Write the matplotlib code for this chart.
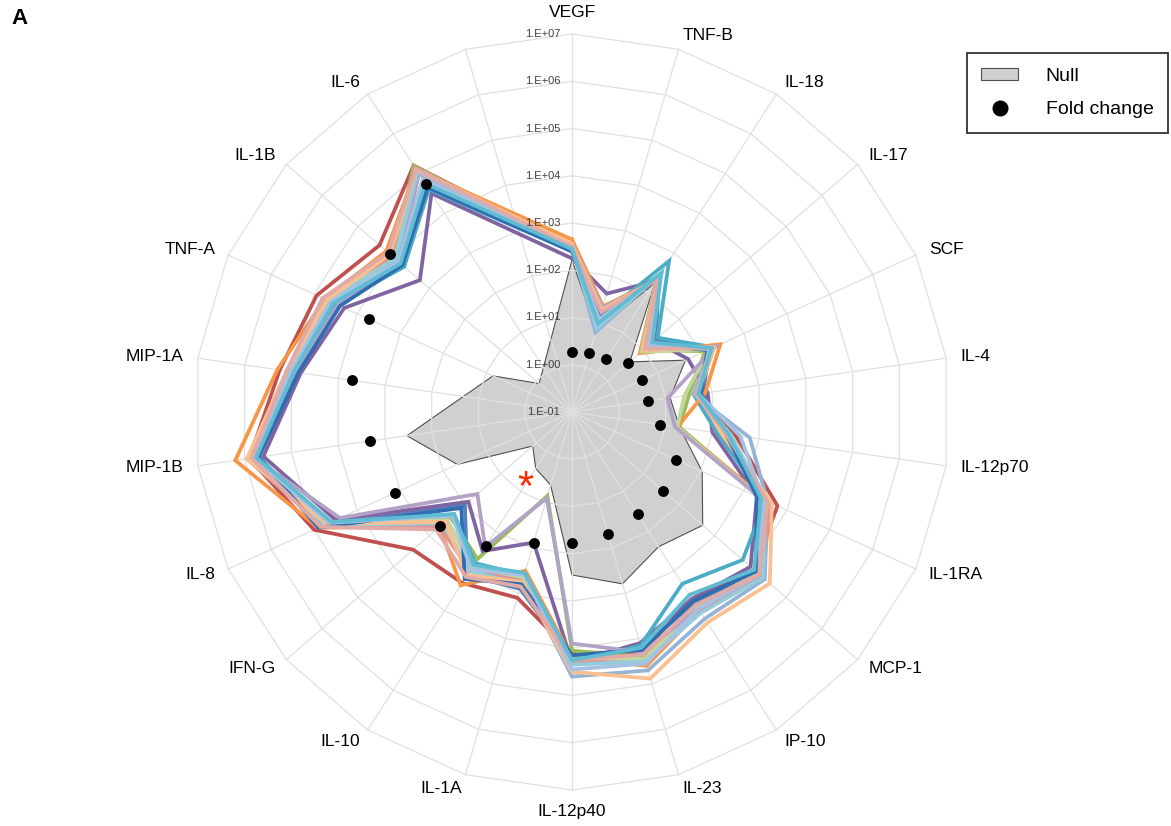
import numpy as np
import matplotlib.pyplot as plt
from matplotlib.patches import Patch
from matplotlib.lines import Line2D

plt.rcParams['font.family'] = ['Liberation Sans', 'DejaVu Sans']

nan = np.nan

# categories clockwise from the top, the last spoke has no name and no data
categories = ['VEGF', 'TNF-B', 'IL-18', 'IL-17', 'SCF', 'IL-4', 'IL-12p70', 'IL-1RA',
              'MCP-1', 'IP-10', 'IL-23', 'IL-12p40', 'IL-1A', 'IL-10', 'IFN-G', 'IL-8',
              'MIP-1B', 'MIP-1A', 'TNF-A', 'IL-1B', 'IL-6', '']

# radial axis, log10 exponents
exp_min, exp_max = -1, 7

# all values below are log10 of the concentration
null_log = [2.22, 0.8, 2.25, 0.62, 1.64, 1.1, 1.3, 2.03, 2.66, 2.39, 2.79,
            2.45, 0.61, 0.42, 0.1, 1.67, 2.53, nan, 0.84, -0.08, nan, nan]

fold_log = [0.26, 0.31, 0.33, 0.57, 0.64, 0.63, 0.89, 1.43, 1.54, 1.57, 1.69,
            1.77, 1.89, 2.38, 2.69, 3.11, 3.31, 3.70, 3.72, 4.10, 4.73, nan]

s_red = [2.5, 1.3, 2.35, 1.1, 2.3, 1.7, 2.5, 3.78, 4.1, 3.7, 4.3, 4.1, 3.1, 3.3, 3.45, 5.0, 5.9, 5.25, 4.94, 4.39, 5.2, nan]
s_blue = [2.4, 1.0, 2.4, 1.35, 2.2, 1.8, 2.3, 3.4, 4.2, 3.8, 4.2, 4.2, 2.9, 3.1, 2.0, 4.8, 5.75, 4.9, 4.5, 3.7, 4.7, nan]
s_green = [2.45, 1.25, 2.45, 1.0, 2.1, 1.5, 1.3, 3.5, 4.3, 3.9, 4.4, 4.05, 0.85, 2.7, 2.4, 4.6, 5.8, 5.0, 4.7, 4.0, 5.2, nan]
s_purple = [2.25, 1.61, 2.3, 1.3, 1.7, 1.9, 2.0, 3.3, 4.0, 3.7, 4.1, 4.3, 1.88, 2.5, 1.9, 4.5, 5.6, 4.8, 4.3, 3.26, 4.5, nan]
s_teal = [2.4, 1.1, 2.8, 1.4, 2.3, 1.6, 2.1, 3.5, 3.78, 3.32, 4.15, 4.3, 2.6, 2.8, 2.3, 4.7, 5.7, 4.9, 4.5, 3.7, 4.6, nan]
s_orange = [2.65, 1.33, 2.3, 0.9, 2.45, 1.85, 1.25, 3.6, 4.35, 4.0, 4.6, 4.2, 2.5, 3.36, 2.7, 4.9, 6.2, 5.3, 4.75, 4.2, 5.1, nan]
s_ltblue = [2.5, 0.76, 2.5, 1.0, 2.2, 1.6, 2.8, 3.55, 4.4, 4.2, 4.7, 4.6, 2.7, 2.9, 2.5, 4.7, 5.9, 5.1, 4.8, 3.9, 5.0, nan]
s_pink = [2.45, 1.2, 2.4, 1.05, 2.3, 1.7, 2.2, 3.6, 4.3, 4.0, 4.5, 4.3, 2.7, 3.0, 2.7, 4.8, 5.95, 5.0, 4.65, 4.05, 5.15, nan]
s_ltgreen = [2.5, 1.3, 2.3, 0.95, 2.2, 1.4, 1.25, 3.45, 4.2, 3.9, 4.45, 4.2, 2.65, 2.9, 2.5, 4.6, 5.85, 5.0, 4.7, 3.95, 5.1, nan]
s_ltpurple = [2.55, 1.3, 2.3, 1.0, 2.35, 1.04, 1.2, 3.4, 4.25, 3.95, 4.3, 3.9, 0.9, 2.4, 1.65, 4.4, 5.8, 4.9, 4.45, 3.8, 5.0, nan]
s_ltteal = [2.5, 0.85, 2.45, 1.1, 2.25, 1.65, 2.4, 3.5, 4.35, 4.05, 4.5, 4.35, 2.8, 3.0, 2.6, 4.75, 5.85, 5.05, 4.65, 3.95, 5.05, nan]
s_ltorange = [2.55, 1.25, 2.35, 1.0, 2.3, 1.7, 2.2, 3.65, 4.54, 4.3, 4.88, 4.5, 2.75, 3.1, 2.55, 4.7, 5.95, 5.1, 4.7, 4.1, 5.1, nan]
s_dkblue = [2.4, 1.15, 2.35, 1.2, 2.15, 1.75, 2.3, 3.3, 4.15, 3.75, 4.25, 4.15, 2.8, 3.2, 2.1, 4.9, 5.7, 4.85, 4.4, 3.75, 4.65, nan]
s_paleblue = [2.45, 1.05, 2.4, 1.15, 2.2, 1.7, 2.6, 3.45, 4.25, 3.95, 4.55, 4.45, 2.6, 2.95, 2.35, 4.65, 5.8, 5.0, 4.6, 3.85, 4.85, nan]
s_rose = [2.5, 1.2, 2.35, 1.05, 2.25, 1.65, 2.3, 3.55, 4.25, 3.85, 4.35, 4.25, 2.85, 3.15, 2.8, 4.85, 5.85, 5.1, 4.8, 4.15, 5.1, nan]
s_sky = [2.45, 0.95, 2.5, 1.25, 2.25, 1.7, 2.35, 3.4, 4.1, 3.6, 4.2, 4.25, 2.55, 2.85, 2.3, 4.6, 5.75, 4.95, 4.55, 3.8, 4.75, nan]

series = [s_red, s_blue, s_green, s_purple, s_teal, s_orange, s_ltblue, s_pink,
          s_ltgreen, s_ltpurple, s_ltteal, s_ltorange, s_dkblue, s_paleblue, s_rose, s_sky]
colors = ['#C0504D', '#4F81BD', '#9BBB59', '#8064A2', '#4BACC6', '#F79646', '#95B3D7',
          '#D99694', '#C3D69B', '#B3A2C7', '#93CDDD', '#FAC090', '#2F6DB0', '#A7C1E3',
          '#E2AAA6', '#5FBCD3']

n = len(categories)
theta = 2 * np.pi * np.arange(n) / n
r_max = exp_max - exp_min


def polygon(vals):
    # drop empty cells and connect the neighbours, like the spreadsheet does
    v = np.asarray(vals, dtype=float)
    keep = ~np.isnan(v)
    r = v[keep] - exp_min
    x = r * np.sin(theta[keep])
    y = r * np.cos(theta[keep])
    return np.append(x, x[0]), np.append(y, y[0])


px = 47.25  # pixels per decade
fig = plt.figure(figsize=(11.71, 8.26), dpi=100)
ax = fig.add_axes([0, 0, 1, 1])
ax.set_xlim(-572 / px, (1171 - 572) / px)
ax.set_ylim(-(826 - 412) / px, 412 / px)
ax.axis('off')

# null area
nx, ny = polygon(null_log)
ax.fill(nx, ny, facecolor='#d0d0d0', edgecolor='#505050', linewidth=0.8, zorder=1)

# grid
grid_col = '#e0e0e0'
for k in range(1, r_max + 1):
    gx = np.append(k * np.sin(theta), 0)
    gy = np.append(k * np.cos(theta), k)
    ax.plot(gx, gy, color=grid_col, linewidth=0.9, zorder=2)
for th in theta:
    ax.plot([0, r_max * np.sin(th)], [0, r_max * np.cos(th)], color=grid_col,
            linewidth=0.9, zorder=2)

# sample lines
for vals, col in zip(series, colors):
    lx, ly = polygon(vals)
    ax.plot(lx, ly, color=col, linewidth=2.7, solid_joinstyle='miter', zorder=3)

# fold change dots
f = np.asarray(fold_log, dtype=float)
fk = ~np.isnan(f)
ax.plot((f[fk] - exp_min) * np.sin(theta[fk]), (f[fk] - exp_min) * np.cos(theta[fk]),
        'o', color='black', markersize=6.8, linestyle='none', zorder=5)

# radial tick labels
for e in range(exp_min, exp_max + 1):
    ax.text(-0.25, e - exp_min, f'1.E{e:+03d}', ha='right', va='center',
            fontsize=8, color='#404040', zorder=6)

# category labels
r_lab = r_max + 0.3
for name, th in zip(categories, theta):
    s, c = np.sin(th), np.cos(th)
    ha = 'left' if s > 0.05 else ('right' if s < -0.05 else 'center')
    if abs(c) > 0.99:
        va = 'bottom' if c > 0 else 'top'
    else:
        va = 'center'
    ax.text(r_lab * s, r_lab * c, name, ha=ha, va=va, fontsize=12.5, color='black')

# significance mark next to IL-1A
ta = theta[12] + np.radians(15)
ax.text(1.9 * np.sin(ta), 1.9 * np.cos(ta), '*', color='#ff2a00', fontsize=30,
        ha='center', va='center', zorder=6)

fig.text(20 / 1171, 1 - 18 / 826, 'A', fontsize=16, fontweight='bold',
         ha='center', va='center')

handles = [Patch(facecolor='#d0d0d0', edgecolor='#505050', linewidth=0.8),
           Line2D([], [], marker='o', color='black', linestyle='none', markersize=10.5)]
leg = ax.legend(handles, ['Null', 'Fold change'], loc='upper right',
                bbox_to_anchor=(1168 / 1171, 1 - 53 / 826), bbox_transform=fig.transFigure,
                fontsize=14, frameon=True, fancybox=False, handlelength=1.9,
                handleheight=0.6, handletextpad=1.4, labelspacing=0.85,
                borderpad=0.75, borderaxespad=0)
leg.get_frame().set_edgecolor('black')
leg.get_frame().set_linewidth(1.3)

fig.savefig('out.png', dpi=100)
